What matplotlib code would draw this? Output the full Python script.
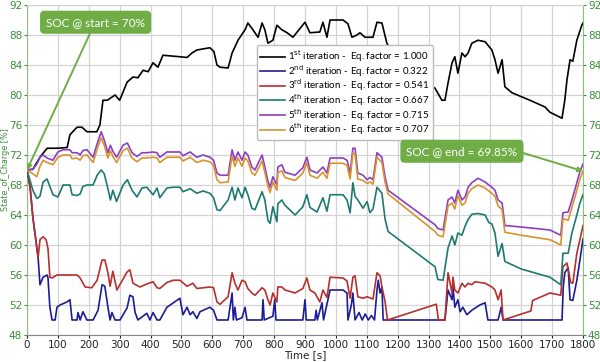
import matplotlib
matplotlib.use("Agg")
import matplotlib.pyplot as plt

# ---------------- data ----------------
series_labels = [
    r"1$^{\mathrm{st}}$ iteration -  Eq. factor = 1.000",
    r"2$^{\mathrm{nd}}$ iteration - Eq. factor = 0.322",
    r"3$^{\mathrm{rd}}$ iteration -  Eq. factor = 0.541",
    r"4$^{\mathrm{th}}$ iteration -  Eq. factor = 0.667",
    r"5$^{\mathrm{th}}$ iteration -  Eq. factor = 0.715",
    r"6$^{\mathrm{th}}$ iteration -  Eq. factor = 0.707",
]

black_t = [0, 19, 42, 65, 100, 130, 139, 162, 178, 194, 226, 236, 246, 260, 285, 300, 324, 343,
           359, 376, 392, 408, 424, 440, 495, 518, 534, 550, 592, 605, 615, 625, 651, 664, 673,
           683, 706, 715, 728, 748, 761, 770, 780, 796, 809, 825, 842, 861, 900, 916, 948, 958,
           971, 981, 1023, 1039, 1052, 1068, 1078, 1094, 1120, 1133, 1149, 1165, 1200, 1260,
           1321, 1343, 1353, 1363, 1376, 1385, 1395, 1408, 1418, 1428, 1440, 1460, 1483, 1505,
           1515, 1525, 1538, 1547, 1570, 1628, 1677, 1693, 1732, 1741, 1748, 1758, 1767, 1780,
           1796, 1800]
black_v = [70.0, 70.1, 71.7, 72.9, 72.9, 73.0, 74.7, 75.7, 75.7, 75.1, 75.1, 76.0, 79.3, 79.3,
           80.0, 79.3, 81.7, 82.4, 82.3, 83.3, 83.1, 84.3, 83.7, 85.3, 85.1, 85.0, 85.6, 86.0,
           86.3, 85.8, 84.0, 83.7, 83.6, 85.6, 86.4, 87.3, 88.7, 89.6, 88.9, 87.7, 89.6, 88.7,
           86.9, 87.3, 89.3, 88.7, 88.3, 87.7, 89.7, 88.3, 88.4, 89.7, 87.7, 90.0, 90.0, 89.5,
           87.7, 88.0, 88.3, 87.7, 87.7, 89.7, 89.6, 86.9, 84.5, 82.5, 80.9, 79.3, 79.3, 81.6,
           84.3, 85.1, 82.9, 85.6, 85.1, 85.6, 86.9, 87.3, 87.1, 86.0, 84.7, 82.9, 84.7, 81.1,
           80.3, 79.3, 78.4, 77.7, 76.9, 79.3, 82.0, 84.7, 84.5, 87.3, 89.3, 89.6]

blue_t = [0, 10, 19, 36, 42, 52, 65, 68, 74, 81, 91, 97, 107, 129, 139, 146, 162, 165, 172, 181,
          194, 214, 230, 243, 252, 262, 269, 275, 285, 301, 324, 333, 343, 350, 359, 388, 398, 408,
          421, 430, 453, 495, 505, 518, 528, 537, 550, 560, 592, 604, 615, 651, 664, 668, 673, 678,
          696, 706, 712, 761, 764, 768, 796, 802, 806, 893, 900, 904, 932, 936, 940, 955, 960, 981,
          1023, 1036, 1039, 1050, 1055, 1062, 1075, 1085, 1095, 1105, 1115, 1125, 1133, 1137,
          1143, 1149, 1153, 1353, 1363, 1376, 1379, 1385, 1395, 1402, 1411, 1424, 1440, 1466,
          1483, 1492, 1525, 1535, 1541, 1732, 1736, 1741, 1752, 1758, 1767, 1780, 1790, 1800]
blue_v = [70.0, 67.7, 63.7, 58.3, 54.7, 55.7, 56.0, 55.6, 51.7, 50.0, 50.0, 51.7, 52.0, 52.4,
          52.7, 50.0, 50.0, 51.0, 50.0, 51.1, 50.0, 50.0, 51.3, 54.7, 54.5, 51.7, 50.0, 51.0,
          50.0, 50.0, 51.6, 53.3, 53.1, 51.0, 50.0, 50.9, 50.0, 51.0, 50.0, 50.0, 51.7, 52.9,
          50.7, 51.7, 50.7, 51.1, 50.2, 51.1, 51.7, 51.3, 50.0, 50.0, 53.6, 50.0, 51.7, 50.0,
          50.3, 51.7, 50.0, 50.0, 52.7, 50.0, 50.5, 52.7, 50.0, 50.0, 52.7, 50.0, 50.0, 51.3,
          50.0, 52.3, 50.0, 54.0, 54.0, 53.6, 50.0, 52.0, 53.6, 50.0, 51.0, 50.0, 50.8, 50.0,
          50.6, 50.0, 54.0, 55.3, 53.6, 54.4, 50.0, 50.0, 54.0, 52.7, 54.4, 51.7, 52.7, 51.1,
          51.7, 50.7, 51.3, 52.0, 52.3, 50.0, 50.0, 51.7, 50.0, 50.0, 54.4, 56.3, 57.0, 52.7,
          52.6, 55.3, 58.0, 60.8]

red_t = [0, 10, 19, 36, 42, 52, 62, 68, 74, 81, 97, 129, 162, 172, 188, 210, 227, 243, 252, 262,
         269, 278, 291, 324, 333, 343, 366, 388, 408, 421, 430, 453, 473, 495, 518, 537, 550, 592,
         604, 615, 625, 651, 664, 673, 683, 696, 706, 715, 728, 738, 761, 770, 780, 787, 796, 809,
         812, 825, 835, 868, 893, 906, 916, 932, 948, 958, 971, 981, 1023, 1036, 1046, 1055, 1062,
         1071, 1088, 1101, 1120, 1133, 1143, 1149, 1159, 1167, 1325, 1332, 1353, 1363, 1376,
         1379, 1385, 1395, 1408, 1418, 1428, 1440, 1450, 1483, 1505, 1515, 1525, 1535, 1541,
         1631, 1637, 1693, 1728, 1735, 1748, 1760, 1767, 1780, 1790, 1800]
red_v = [70.0, 67.7, 63.7, 58.3, 60.7, 61.1, 60.7, 59.5, 55.7, 55.6, 56.0, 56.0, 56.0, 55.6, 54.4,
         54.3, 55.3, 58.0, 58.0, 56.3, 54.5, 56.5, 54.0, 56.4, 56.7, 54.9, 54.4, 54.8, 55.1, 54.3,
         54.2, 55.0, 55.3, 55.3, 54.5, 54.9, 54.2, 54.4, 54.3, 52.4, 52.1, 53.1, 56.3, 54.9, 54.0,
         55.3, 55.1, 54.2, 53.6, 53.3, 54.3, 54.0, 52.7, 52.0, 53.6, 52.4, 54.4, 54.4, 54.0, 53.6,
         54.2, 55.6, 54.0, 53.6, 52.4, 54.0, 53.0, 55.7, 55.6, 55.2, 52.9, 55.7, 55.9, 53.1, 52.9,
         53.1, 52.8, 56.3, 55.9, 54.4, 52.5, 50.0, 52.1, 50.0, 50.0, 56.3, 53.6, 55.7, 54.0, 53.6,
         54.9, 54.4, 54.9, 54.7, 55.1, 54.9, 54.4, 54.0, 52.7, 54.0, 50.0, 51.2, 52.6, 53.6, 53.3,
         57.1, 57.6, 55.0, 54.9, 58.9, 60.7, 62.6]

mid_t = [0, 19, 32, 42, 52, 65, 84, 100, 117, 139, 146, 162, 172, 181, 194, 214, 227, 240, 250,
         262, 270, 278, 290, 311, 325, 340, 356, 372, 388, 408, 421, 430, 453, 473, 495, 505, 528,
         550, 570, 592, 604, 615, 625, 651, 664, 673, 683, 696, 706, 715, 728, 738, 761, 770, 780,
         787, 796, 809, 812, 825, 835, 868, 893, 906, 916, 939, 958, 971, 981, 1023, 1036, 1046,
         1055, 1062, 1071, 1088, 1101, 1110, 1120, 1133, 1149, 1159, 1169, 1321, 1330, 1347, 1363,
         1376, 1385, 1395, 1408, 1418, 1428, 1440, 1460, 1483, 1495, 1505, 1515, 1525, 1538, 1547,
         1600, 1693, 1728, 1735, 1752, 1764, 1780, 1790, 1800]
teal_v = [70.0, 67.3, 66.2, 66.5, 68.4, 68.8, 66.7, 66.4, 68.0, 68.0, 66.7, 66.6, 66.8, 67.8,
          68.0, 68.0, 69.3, 70.0, 69.5, 67.5, 66.0, 67.3, 65.8, 68.0, 68.7, 67.3, 66.4, 67.6, 67.7,
          66.7, 67.6, 66.3, 67.6, 67.7, 67.7, 67.1, 67.5, 66.9, 67.2, 66.9, 66.3, 64.7, 64.6, 66.0,
          67.7, 66.0, 67.6, 66.3, 67.7, 66.7, 64.9, 64.7, 67.1, 66.0, 63.3, 62.9, 65.1, 63.1, 65.5,
          66.0, 65.3, 64.0, 65.1, 66.7, 65.0, 64.4, 66.3, 64.5, 66.7, 66.7, 66.0, 64.3, 68.3, 66.5,
          66.0, 64.9, 65.8, 64.3, 64.8, 67.7, 66.9, 63.5, 61.8, 57.1, 55.4, 55.3, 59.6, 61.2, 60.0,
          61.6, 61.3, 62.5, 63.4, 64.1, 64.2, 64.0, 63.0, 62.8, 61.6, 58.5, 60.2, 57.8, 56.8, 55.7,
          54.7, 58.9, 58.9, 61.6, 64.0, 65.6, 66.7]
purple_v = [70.0, 70.1, 70.8, 71.7, 72.0, 71.6, 71.3, 72.4, 72.7, 72.7, 72.3, 72.3, 72.0, 72.6,
            72.7, 71.7, 73.5, 75.1, 74.0, 72.3, 73.3, 72.5, 71.7, 73.3, 73.6, 72.3, 71.8, 72.3,
            72.3, 72.4, 72.3, 71.7, 72.4, 72.4, 72.4, 71.9, 72.4, 71.7, 72.0, 71.7, 71.3, 69.6,
            69.3, 69.3, 72.7, 71.3, 72.4, 71.3, 72.4, 72.0, 70.4, 70.0, 72.0, 70.4, 68.5, 67.7,
            69.1, 68.0, 70.4, 70.7, 69.7, 69.3, 70.3, 71.7, 70.0, 69.6, 70.4, 69.6, 71.6, 71.6,
            71.3, 69.6, 72.9, 72.9, 69.6, 69.3, 68.7, 69.0, 68.7, 72.3, 71.7, 69.1, 67.3, 62.7,
            62.2, 62.0, 66.0, 66.4, 65.6, 67.3, 66.0, 66.4, 67.7, 68.3, 68.9, 68.4, 68.0, 67.7,
            67.3, 66.0, 65.6, 62.6, 62.4, 62.0, 61.3, 64.3, 64.4, 66.0, 68.3, 69.8, 70.8]
orange_v = [70.0, 69.5, 69.1, 70.5, 71.3, 71.0, 70.7, 71.7, 72.0, 72.0, 71.5, 71.6, 71.3, 71.9,
            72.0, 71.0, 72.8, 74.3, 73.3, 71.6, 72.6, 71.8, 71.0, 72.6, 72.9, 71.6, 71.1, 71.6,
            71.6, 71.7, 71.6, 71.0, 71.7, 71.7, 71.7, 71.2, 71.7, 71.0, 71.3, 71.1, 70.6, 68.7,
            68.3, 68.4, 71.9, 70.5, 71.6, 70.5, 71.6, 71.2, 69.6, 69.3, 71.2, 69.7, 67.8, 67.0,
            68.4, 67.3, 69.6, 69.9, 69.0, 68.6, 69.6, 71.0, 69.3, 68.9, 69.7, 68.9, 70.9, 70.9,
            70.6, 68.8, 72.3, 72.1, 68.8, 68.6, 68.2, 68.4, 68.1, 71.7, 71.0, 68.4, 66.8, 61.8,
            61.3, 61.1, 65.2, 65.6, 64.8, 66.6, 65.3, 65.6, 66.9, 67.5, 68.0, 67.6, 67.2, 66.9,
            66.5, 65.2, 64.7, 61.7, 61.3, 60.7, 60.0, 63.5, 63.3, 65.0, 67.3, 68.8, 69.85]

assert len(black_t) == len(black_v)
assert len(blue_t) == len(blue_v)
assert len(red_t) == len(red_v)
assert len(mid_t) == len(teal_v) == len(purple_v) == len(orange_v)

x_ticks = list(range(0, 1801, 100))
y_ticks = list(range(48, 93, 4))

start_note = "SOC @ start = 70%"
end_note = "SOC @ end = 69.85%"

# ---------------- style ----------------
colors = ["#000000", "#1c1c96", "#b5302e", "#1d7a70", "#8b3fc4", "#d9922e"]
green_txt = "#3c8c3c"
note_green = "#70ad47"

fig = plt.figure(figsize=(6.0, 3.62), dpi=100)
ax = fig.add_axes([0.045, 0.0746, 0.9267, 0.9116])

series = [(black_t, black_v), (blue_t, blue_v), (red_t, red_v),
          (mid_t, teal_v), (mid_t, purple_v), (mid_t, orange_v)]
order = [1, 2, 3, 5, 4, 0]
handles = [None] * 6
for i in order:
    t, v = series[i]
    (ln,) = ax.plot(t, v, color=colors[i], lw=1.2, label=series_labels[i], zorder=3 + i * 0.1)
    handles[i] = ln

ax.set_xlim(0, 1800)
ax.set_ylim(48, 92)
ax.set_xticks(x_ticks)
ax.set_yticks(y_ticks)
ax.grid(True, color="#d4d4d4", lw=0.9)
ax.set_axisbelow(True)

ax.tick_params(axis="x", labelsize=7.5, colors="#222222", length=2, pad=1.5)
ax.tick_params(axis="y", labelsize=7.5, colors=green_txt, length=2, pad=1.5,
               right=True, labelright=True)
for s in ["left", "right"]:
    ax.spines[s].set_color("#8fbf7f")
ax.spines["bottom"].set_color("#888888")
ax.spines["top"].set_color("#d4d4d4")

ax.set_xlabel("Time [s]", fontsize=7.5, labelpad=0.5, color="#222222")
ax.set_ylabel("State_of_Charge [%]", fontsize=5.8, color=green_txt)
ax.yaxis.set_label_coords(-0.031, 0.5)

leg = ax.legend(handles=handles, loc="upper left", bbox_to_anchor=(0.413, 0.878),
                frameon=True, framealpha=1.0, fancybox=True,
                edgecolor="#bbbbbb", handlelength=2.6, handletextpad=0.35,
                labelspacing=-0.12, borderpad=0.3, borderaxespad=0.0,
                prop={"family": "Lato", "size": 7.0})
leg.set_zorder(10)

bbox_kw = dict(boxstyle="round,pad=0.45,rounding_size=0.3", fc=note_green, ec=note_green)
ax.annotate(start_note, xy=(0, 70), xytext=(222, 89.7), fontsize=8.5, family="Lato",
            color="white", ha="center", va="center", bbox=bbox_kw, zorder=12,
            arrowprops=dict(arrowstyle="-|>", color=note_green, lw=1.4, mutation_scale=7,
                            relpos=(0.47, 0.0), shrinkA=0, shrinkB=0))
ax.annotate(end_note, xy=(1800, 69.85), xytext=(1408, 72.5), fontsize=8.5, family="Lato",
            color="white", ha="center", va="center", bbox=bbox_kw, zorder=12,
            arrowprops=dict(arrowstyle="-|>", color=note_green, lw=1.4, mutation_scale=7,
                            relpos=(1.0, 0.5), shrinkA=0, shrinkB=0))

fig.savefig("out.png", dpi=100)
